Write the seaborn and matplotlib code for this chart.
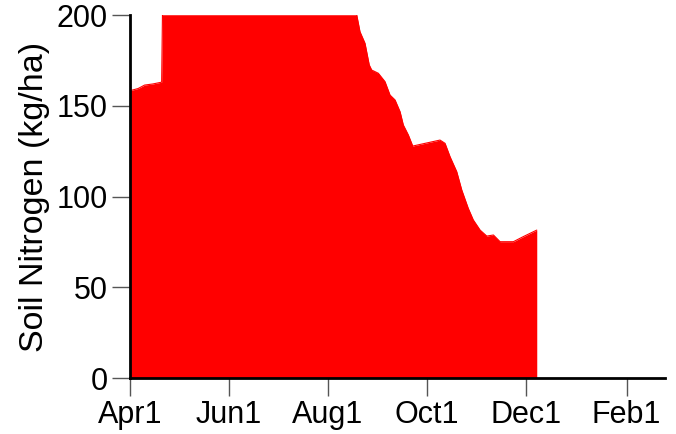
import numpy as np
import pandas as pd
import matplotlib
matplotlib.use("Agg")
import matplotlib.pyplot as plt
import seaborn as sns

# Days after April 1 and soil nitrogen (kg/ha)
day_offsets = [0, 5, 9, 14, 19.5, 20, 139.7, 141.7, 144.8, 147.4, 148.9, 153, 157.1, 160.2,
               163.3, 166.4, 168.4, 171.5, 174.2, 181.8, 191, 194.1, 197.2, 201.3,
               204.4, 208.4, 211.5, 215.7, 219.8, 223.9, 228, 236.2, 242.3, 250.6]
nitrogen = [158.3, 159.5, 161.4, 162.0, 163.0, 200, 200, 190.8, 184.4, 172.5, 169.7, 167.9,
            163.3, 155.9, 153.2, 146.7, 139.4, 133.9, 127.8, 129.3, 131.1, 129.3, 121.9,
            113.7, 103.6, 93.5, 87.1, 81.5, 78.2, 78.8, 75.1, 75.1, 77.9, 81.5]
tick_dates = ["2021-04-01", "2021-06-01", "2021-08-01", "2021-10-01", "2021-12-01", "2022-02-01"]
tick_labels = ["Apr1", "Jun1", "Aug1", "Oct1", "Dec1", "Feb1"]
y_ticks = [0, 50, 100, 150, 200]

start = pd.Timestamp("2021-04-01")
df = pd.DataFrame({
    "date": [start + pd.Timedelta(days=d) for d in day_offsets],
    "N": nitrogen,
})

sns.set_theme(style="white")
plt.rcParams["font.family"] = ["Liberation Sans", "DejaVu Sans"]

fig = plt.figure(figsize=(6.76, 4.34), dpi=100)
ax = fig.add_axes([0.1923, 0.129, 0.7914, 0.8364])

ax.fill_between(df["date"], 0, df["N"], color="#ff0000", linewidth=0)
sns.lineplot(data=df, x="date", y="N", ax=ax, color="#ff0000", linewidth=0.8)

ax.set_xlim(start, start + pd.Timedelta(days=329.6))
ax.set_ylim(0, 200)
ax.set_xticks(pd.to_datetime(tick_dates))
ax.set_xticklabels(tick_labels)
ax.set_yticks(y_ticks)
ax.set_yticklabels([str(v) for v in y_ticks])

ax.set_xlabel("")
ax.set_ylabel("Soil Nitrogen (kg/ha)", fontsize=24.5, color="black", labelpad=4.5)
ax.tick_params(axis="both", which="both", direction="out", length=13, width=1,
               color="#555555", labelsize=22, labelcolor="black", pad=3,
               left=True, bottom=True)

for side in ["top", "right"]:
    ax.spines[side].set_visible(False)
for side in ["left", "bottom"]:
    ax.spines[side].set_color("black")
    ax.spines[side].set_linewidth(2)
ax.grid(False)

fig.savefig("out.png", dpi=100)
